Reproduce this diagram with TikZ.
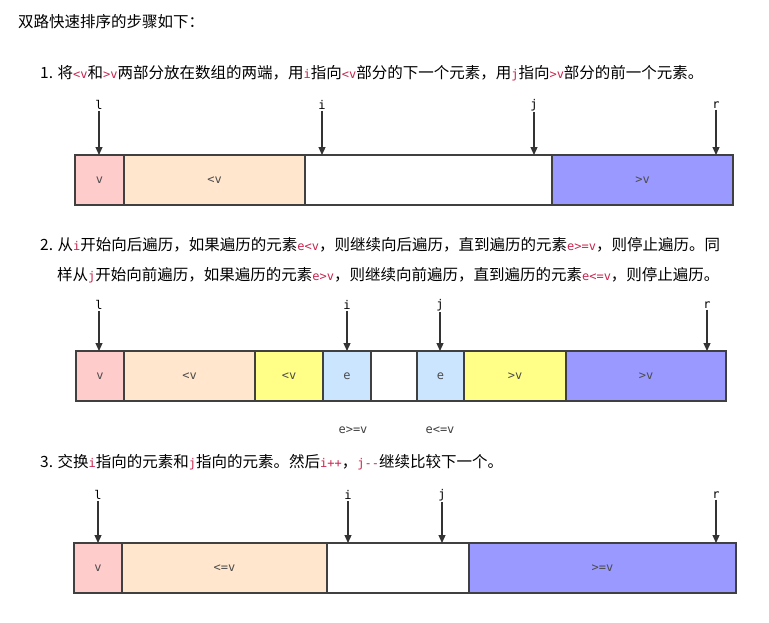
\documentclass[tikz,border=0pt]{standalone}
\usepackage{fontspec}
\setmainfont{Noto Sans CJK SC}
\setmonofont{DejaVu Sans Mono}
\usepackage{xcolor}
\usetikzlibrary{arrows.meta,positioning}
\definecolor{codepink}{RGB}{199,37,78}
\definecolor{cellpink}{RGB}{255,204,204}
\definecolor{cellpeach}{RGB}{255,230,204}
\definecolor{cellpurple}{RGB}{153,153,255}
\definecolor{cellyellow}{RGB}{255,255,136}
\definecolor{cellblue}{RGB}{204,229,255}
\newcommand{\cd}[1]{{\ttfamily\color{codepink}\fontsize{12}{14}\selectfont #1}}
\newcommand{\cell}[5]{\node[cellbox, fill=#4, minimum width=#3-#2] (#1) at ({(#2+#3)/2}, \rowy) {#5};}

\begin{document}
\begin{tikzpicture}[x=1pt, y=-1pt,
    txt/.style={anchor=west, font=\fontsize{15.5}{18}\selectfont, inner sep=0pt},
    cellbox/.style={rectangle, draw=black!75, line width=1.5pt, minimum height=50, inner sep=0pt, font=\ttfamily\fontsize{12}{14}\selectfont, text=black!70},
    ptr/.style={font=\ttfamily\fontsize{12}{14}\selectfont, inner sep=1pt},
    arrow/.style={-{Triangle[length=8pt,width=7pt]}, line width=1.2pt, black!80}
]
\useasboundingbox (0,0) rectangle (769,622);

\node[txt] (title) at (18,22) {双路快速排序的步骤如下：};
\node[txt] (step1) at (40,73) {1. 将\cd{<v}和\cd{>v}两部分放在数组的两端，用\cd{i}指向\cd{<v}部分的下一个元素，用\cd{j}指向\cd{>v}部分的前一个元素。};
\node[txt] (step2a) at (40,245) {2. 从\cd{i}开始向后遍历，如果遍历的元素\cd{e<v}，则继续向后遍历，直到遍历的元素\cd{e>=v}，则停止遍历。同};
\node[txt] (step2b) at (57,275) {样从\cd{j}开始向前遍历，如果遍历的元素\cd{e>v}，则继续向前遍历，直到遍历的元素\cd{e<=v}，则停止遍历。};
\node[txt] (step3) at (40,462) {3. 交换\cd{i}指向的元素和\cd{j}指向的元素。然后\cd{i++}，\cd{j--}继续比较下一个。};

% row 1
\def\rowy{180}
\cell{av}{75}{124}{cellpink}{v}
\cell{aless}{124}{305}{cellpeach}{<v}
\cell{aempty}{305}{552}{white}{}
\cell{agreat}{552}{733}{cellpurple}{>v}
\foreach \nm/\x in {l/99, i/322, j/534, r/716} {
  \node[ptr] (a\nm) at (\x,105) {\nm};
  \coordinate (at\nm) at (\x,155);
  \draw[arrow] (a\nm) -- (at\nm);
}

% row 2
\def\rowy{376}
\cell{bv}{76}{124}{cellpink}{v}
\cell{bless}{124}{255}{cellpeach}{<v}
\cell{bless2}{255}{323}{cellyellow}{<v}
\cell{bei}{323}{371}{cellblue}{e}
\cell{bempty}{371}{417}{white}{}
\cell{bej}{417}{464}{cellblue}{e}
\cell{bgreat2}{464}{566}{cellyellow}{>v}
\cell{bgreat}{566}{726}{cellpurple}{>v}
\foreach \nm/\x in {l/99, i/347, j/440, r/707} {
  \node[ptr] (b\nm) at (\x,305) {\nm};
  \coordinate (bt\nm) at (\x,351);
  \draw[arrow] (b\nm) -- (bt\nm);
}
\node[ptr, text=black!75] (bcondi) at (353,430) {e>=v};
\node[ptr, text=black!75] (bcondj) at (440,430) {e<=v};

% row 3
\def\rowy{568}
\cell{cv}{74}{122}{cellpink}{v}
\cell{cless}{122}{327}{cellpeach}{<=v}
\cell{cempty}{327}{469}{white}{}
\cell{cgreat}{469}{736}{cellpurple}{>=v}
\foreach \nm/\x in {l/98, i/348, j/442, r/716} {
  \node[ptr] (c\nm) at (\x,495) {\nm};
  \coordinate (ct\nm) at (\x,543);
  \draw[arrow] (c\nm) -- (ct\nm);
}
\end{tikzpicture}
\end{document}
